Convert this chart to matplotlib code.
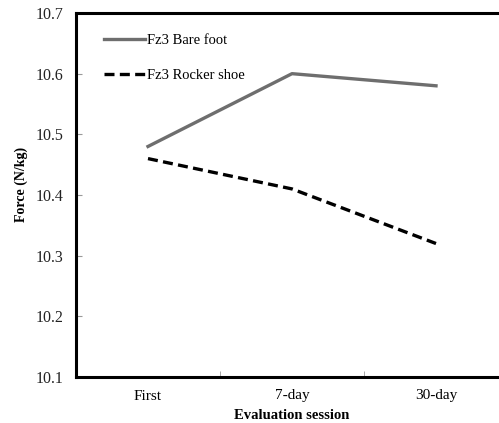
import matplotlib.pyplot as plt
from matplotlib.ticker import FixedLocator

sessions = ["First", "7-day", "30-day"]
bare_foot = [10.48, 10.60, 10.58]
rocker_shoe = [10.46, 10.41, 10.32]
y_ticks = [10.1, 10.2, 10.3, 10.4, 10.5, 10.6, 10.7]

plt.rcParams["font.family"] = ["Liberation Serif", "DejaVu Serif"]

fig = plt.figure(figsize=(4.99, 4.23), dpi=100)
ax = fig.add_axes([76 / 499, 1 - 377 / 423, 432 / 499, 364 / 423])

x = list(range(len(sessions)))
ax.plot(x, bare_foot, color="#6e6e6e", lw=2.4, label="Fz3 Bare foot")
ax.plot(x, rocker_shoe, color="black", lw=2.4, ls=(0, (3, 1.6)), label="Fz3 Rocker shoe")

ax.set_xlim(-0.5, 2.5)
ax.set_ylim(10.1, 10.7)
ax.set_xticks(x)
ax.set_xticklabels(sessions, fontsize=11)
ax.xaxis.set_minor_locator(FixedLocator([0.5, 1.5]))
ax.tick_params(axis="x", which="major", length=0, pad=9)
ax.tick_params(axis="x", which="minor", direction="in", length=4, color="#999999")
ax.set_yticks(y_ticks)
ax.set_yticklabels([f"{v:.1f}" for v in y_ticks], fontsize=11.5, color="#222222")
ax.tick_params(axis="y", direction="in", length=4, color="#999999", pad=9)

for side in ["left", "bottom", "top", "right"]:
    ax.spines[side].set_linewidth(2.2)
    ax.spines[side].set_color("black")

ax.set_xlabel("Evaluation session", fontsize=10.5, fontweight="bold", labelpad=5)
ax.set_ylabel("Force (N/kg)", fontsize=10, fontweight="bold")
ax.yaxis.set_label_coords(-0.11, 0.53)

ax.legend(loc="upper left", bbox_to_anchor=(0.035, 0.978), frameon=False,
          fontsize=10.5, handlelength=2.8, handletextpad=0.15, labelspacing=1.5)

fig.savefig("out.png", dpi=100)
